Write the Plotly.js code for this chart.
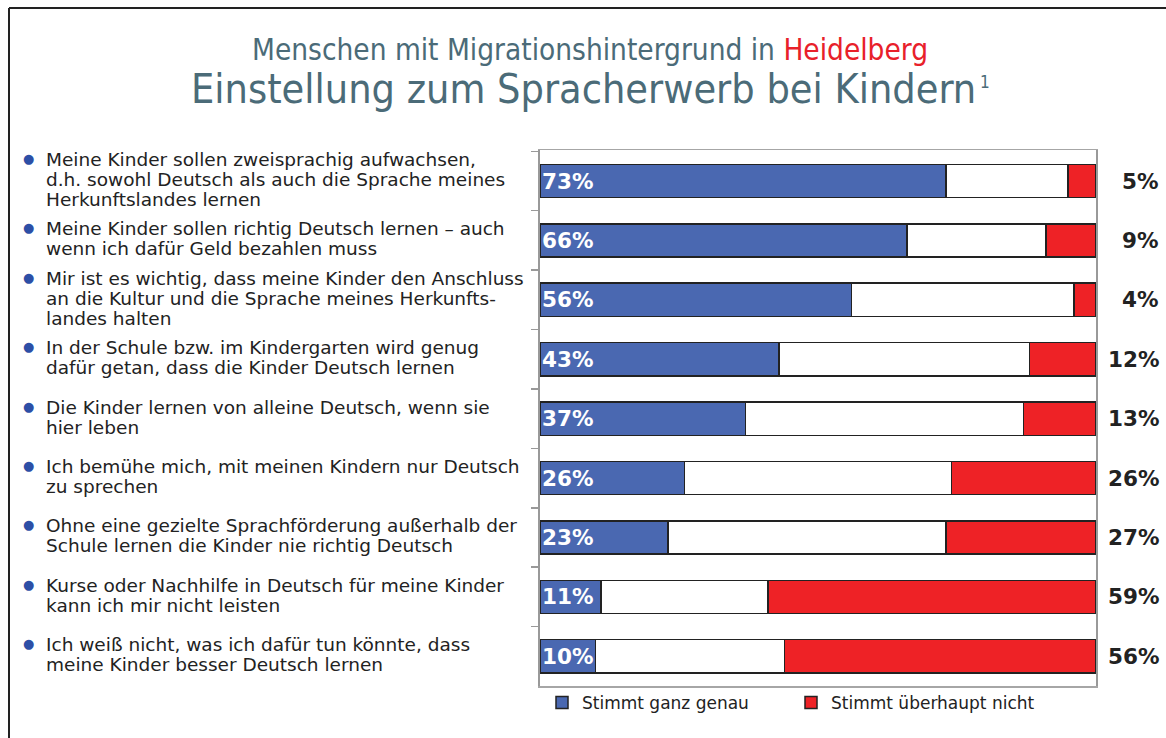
<!DOCTYPE html>
<html>
<head>
<meta charset="utf-8">
<script src="https://cdn.plot.ly/plotly-3.0.1.min.js"></script>
<style>
  html, body { margin: 0; padding: 0; background: #fff; }
  #chart { width: 1166px; height: 738px; }
</style>
</head>
<body>
<div id="chart"></div>
<script>
// ---- data ----
const categories = [
  "Meine Kinder sollen zweisprachig aufwachsen,<br>d.h. sowohl Deutsch als auch die Sprache meines<br>Herkunftslandes lernen",
  "Meine Kinder sollen richtig Deutsch lernen – auch<br>wenn ich dafür Geld bezahlen muss",
  "Mir ist es wichtig, dass meine Kinder den Anschluss<br>an die Kultur und die Sprache meines Herkunfts-<br>landes halten",
  "In der Schule bzw. im Kindergarten wird genug<br>dafür getan, dass die Kinder Deutsch lernen",
  "Die Kinder lernen von alleine Deutsch, wenn sie<br>hier leben",
  "Ich bemühe mich, mit meinen Kindern nur Deutsch<br>zu sprechen",
  "Ohne eine gezielte Sprachförderung außerhalb der<br>Schule lernen die Kinder nie richtig Deutsch",
  "Kurse oder Nachhilfe in Deutsch für meine Kinder<br>kann ich mir nicht leisten",
  "Ich weiß nicht, was ich dafür tun könnte, dass<br>meine Kinder besser Deutsch lernen"
];
const stimmtGanzGenau = [73, 66, 56, 43, 37, 26, 23, 11, 10];
const dazwischen      = [22, 25, 40, 45, 50, 48, 50, 30, 34];
const stimmtNicht     = [5, 9, 4, 12, 13, 26, 27, 59, 56];
const seriesNames = ["Stimmt ganz genau", "Rest", "Stimmt überhaupt nicht"];

// ---- geometry helpers (pixel -> paper) ----
const W = 1166, H = 738;
const M = {l: 540, r: 70, t: 150, b: 52};
const PW = W - M.l - M.r, PH = H - M.t - M.b;
const px = x => (x - M.l) / PW;
const py = y => (H - M.b - y) / PH;

const FONT = "DejaVu Sans, Verdana, sans-serif";
const NARROW = "Liberation Sans Narrow, DejaVu Sans Condensed, Arial Narrow, sans-serif";
const BLUE = "#4a68b1", RED = "#ee2226", OUT = "#222222";
const LINE_H = 20;

const barLine = {color: OUT, width: 1.5};
const traces = [
  {type: "bar", orientation: "h", y: categories, x: stimmtGanzGenau, name: seriesNames[0],
   marker: {color: BLUE, line: barLine}, width: 0.56},
  {type: "bar", orientation: "h", y: categories, x: dazwischen, name: seriesNames[1], showlegend: false,
   marker: {color: "#ffffff", line: barLine}, width: 0.56},
  {type: "bar", orientation: "h", y: categories, x: stimmtNicht, name: seriesNames[2],
   marker: {color: RED, line: barLine}, width: 0.56}
];

const annotations = [];
categories.forEach((c, i) => {
  const lines = c.split("<br>");
  const n = lines.length;
  lines.forEach((ln, k) => {
    annotations.push({xref: "paper", yref: "y", x: px(44), y: c, text: ln, showarrow: false,
      xanchor: "left", yanchor: "middle", align: "left",
      yshift: ((n - 1) / 2 - k) * LINE_H + 1.5,
      font: {family: FONT, size: 18.5, color: "#222"}});
  });
  annotations.push({xref: "paper", yref: "y", x: px(28), y: c, text: "●", showarrow: false,
    xanchor: "center", yanchor: "middle", yshift: (n - 1) / 2 * LINE_H + 2.5,
    font: {family: FONT, size: 13, color: "#2d4fa6"}});
  annotations.push({xref: "x", yref: "y", x: 0, y: c, text: "<b>" + stimmtGanzGenau[i] + "%</b>",
    showarrow: false, xanchor: "left", yanchor: "middle", xshift: 0,
    font: {family: FONT, size: 21.5, color: "#ffffff"}});
  annotations.push({xref: "paper", yref: "y", x: px(1161), y: c, text: "<b>" + stimmtNicht[i] + "%</b>",
    showarrow: false, xanchor: "right", yanchor: "middle",
    font: {family: FONT, size: 21.5, color: "#222"}});
});
annotations.push({xref: "paper", yref: "paper", x: px(590), y: py(50), showarrow: false,
  xanchor: "center", yanchor: "middle",
  text: "Menschen mit Migrationshintergrund in <span style='color:#e8202a'>Heidelberg</span>",
  font: {family: NARROW, size: 29.5, color: "#4b6b78"}});
annotations.push({xref: "paper", yref: "paper", x: px(583), y: py(89), showarrow: false,
  xanchor: "center", yanchor: "middle",
  text: "Einstellung zum Spracherwerb bei Kindern",
  font: {family: NARROW, size: 41, color: "#4b6b78"}});
annotations.push({xref: "paper", yref: "paper", x: px(978), y: py(82), showarrow: false,
  xanchor: "left", yanchor: "middle", text: "1",
  font: {family: NARROW, size: 17, color: "#4b6b78"}});

const shapes = [
  {type: "line", xref: "paper", yref: "paper", x0: px(9), x1: px(1170), y0: py(8), y1: py(8),
   line: {color: "#222", width: 2}},
  {type: "line", xref: "paper", yref: "paper", x0: px(9), x1: px(9), y0: py(8), y1: py(745),
   line: {color: "#222", width: 2}}
];

const layout = {
  width: W, height: H,
  margin: M,
  paper_bgcolor: "#ffffff", plot_bgcolor: "#ffffff",
  barmode: "stack",
  showlegend: true,
  legend: {orientation: "h", x: px(542), y: py(703), xanchor: "left", yanchor: "middle",
    font: {family: FONT, size: 17, color: "#222"}, entrywidth: 204, entrywidthmode: "pixels",
    traceorder: "normal", bgcolor: "rgba(0,0,0,0)"},
  xaxis: {range: [0, 100], showticklabels: false, showgrid: false, zeroline: false,
    showline: true, mirror: true, linecolor: "#a6a6a6", linewidth: 1.5, ticks: "", fixedrange: true},
  yaxis: {type: "category", autorange: "reversed", showticklabels: false, showgrid: false,
    showline: true, mirror: true, linecolor: "#999999", linewidth: 2,
    ticks: "outside", tickson: "boundaries", ticklen: 7, tickwidth: 1.5, tickcolor: "#999999",
    fixedrange: true},
  annotations: annotations,
  shapes: shapes
};

Plotly.newPlot("chart", traces, layout, {displayModeBar: false, staticPlot: true});
</script>
</body>
</html>
